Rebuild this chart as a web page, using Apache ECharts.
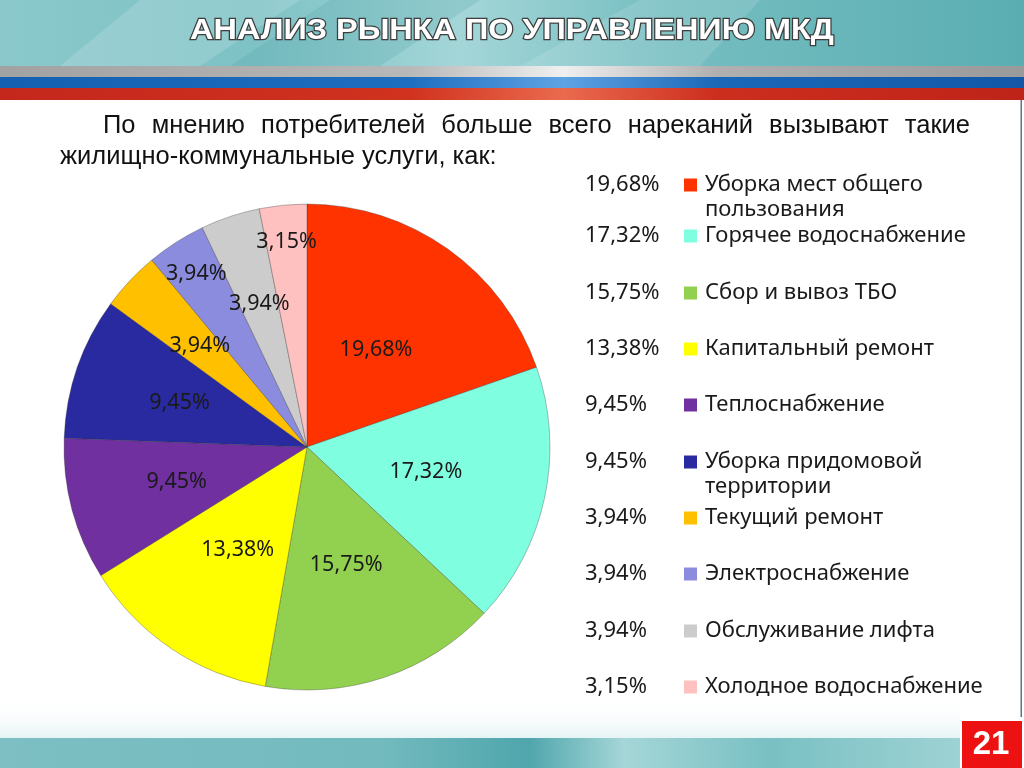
<!DOCTYPE html>
<html>
<head>
<meta charset="utf-8">
<script src="https://cdn.jsdelivr.net/npm/echarts@6/dist/echarts.min.js"></script>
<style>
html,body{margin:0;padding:0;background:#fff;}
#c{width:1024px;height:768px;}
</style>
</head>
<body>
<div id="c"></div>
<script>
// ---- data ----
const titleText = 'АНАЛИЗ РЫНКА ПО УПРАВЛЕНИЮ МКД';
const introLine1 = 'По мнению потребителей больше всего нареканий вызывают такие';
const introLine2 = 'жилищно-коммунальные услуги, как:';
const pageNumber = '21';
const categories = [
  'Уборка мест общего пользования',
  'Горячее водоснабжение',
  'Сбор и вывоз ТБО',
  'Капитальный ремонт',
  'Теплоснабжение',
  'Уборка придомовой территории',
  'Текущий ремонт',
  'Электроснабжение',
  'Обслуживание лифта',
  'Холодное водоснабжение'
];
const values = [19.68, 17.32, 15.75, 13.38, 9.45, 9.45, 3.94, 3.94, 3.94, 3.15];
const legendLines = [
  ['Уборка мест общего', 'пользования'],
  ['Горячее водоснабжение'],
  ['Сбор и вывоз ТБО'],
  ['Капитальный ремонт'],
  ['Теплоснабжение'],
  ['Уборка придомовой', 'территории'],
  ['Текущий ремонт'],
  ['Электроснабжение'],
  ['Обслуживание лифта'],
  ['Холодное водоснабжение']
];

// ---- styles / layout ----
const colors = ['#FF3300','#80FFE0','#92D050','#FFFF00','#7030A0','#2A2AA0','#FFC000','#8C8CDE','#CCCCCC','#FFC0C0'];
const legendCenters = [185, 236, 293, 349, 405, 462, 518, 574, 631, 687];
const labelRadius = [0.49, 0.5, 0.51, 0.51, 0.555, 0.555, 0.605, 0.845, 0.62, 0.85];
const PIE_CX = 307, PIE_CY = 447, PIE_R = 243;
const FONT = 'Noto Sans';
const INTRO_FONT = '25.5px "Liberation Sans", Arial';
const fmt = v => v.toFixed(2).replace('.', ',') + '%';

const chart = echarts.init(document.getElementById('c'), null, {renderer: 'canvas'});

const graphics = [];
// header banner
graphics.push({type:'rect', shape:{x:0,y:0,width:1024,height:66}, z:-10,
  style:{fill:new echarts.graphic.LinearGradient(0,0,1,0,[
    {offset:0,color:'#8AC8CB'},{offset:0.25,color:'#7EC2C5'},{offset:0.45,color:'#A4D6D8'},
    {offset:0.65,color:'#76BEC1'},{offset:1,color:'#5AAEB2'}])}});
graphics.push({type:'polygon', z:-9, shape:{points:[[60,66],[140,0],[300,0],[200,66]]},
  style:{fill:'rgba(255,255,255,0.15)'}});
graphics.push({type:'polygon', z:-9, shape:{points:[[230,66],[330,0],[480,0],[380,66]]},
  style:{fill:'rgba(60,150,155,0.18)'}});
graphics.push({type:'polygon', z:-9, shape:{points:[[520,66],[640,0],[760,0],[700,66]]},
  style:{fill:'rgba(255,255,255,0.12)'}});
// stripes
graphics.push({type:'rect', shape:{x:0,y:66,width:1024,height:11}, z:-10,
  style:{fill:new echarts.graphic.LinearGradient(0,0,1,0,[
    {offset:0,color:'#A2A2A2'},{offset:0.4,color:'#B8B8B8'},{offset:0.55,color:'#EFEFEF'},
    {offset:0.7,color:'#B0B0B0'},{offset:1,color:'#9A9A9A'}])}});
graphics.push({type:'rect', shape:{x:0,y:77,width:1024,height:11}, z:-10,
  style:{fill:new echarts.graphic.LinearGradient(0,0,1,0,[
    {offset:0,color:'#1560B0'},{offset:0.4,color:'#1E6EC0'},{offset:0.55,color:'#5FA3E3'},
    {offset:0.7,color:'#1B68B8'},{offset:1,color:'#1358A8'}])}});
graphics.push({type:'rect', shape:{x:0,y:88,width:1024,height:12}, z:-10,
  style:{fill:new echarts.graphic.LinearGradient(0,0,1,0,[
    {offset:0,color:'#C4281C'},{offset:0.4,color:'#D0321F'},{offset:0.55,color:'#EA6A4E'},
    {offset:0.7,color:'#CC2E1E'},{offset:1,color:'#BE2418'}])}});
// title
graphics.push({type:'text', x:512, y:31, z:5, scaleX:1.08, style:{text:titleText, fill:'#FFFFFF',
  font:'bold 30px "Liberation Sans", Arial', align:'center', verticalAlign:'middle',
  stroke:'#3E3E3E', lineWidth:2.4}});
// right thin line
graphics.push({type:'rect', shape:{x:1020.5,y:100,width:1.5,height:617}, z:-5, style:{fill:'#5A7090'}});

// intro text: first line justified between 103 and 970
(function () {
  const ctx = document.createElement('canvas').getContext('2d');
  ctx.font = INTRO_FONT;
  const words = introLine1.split(' ');
  const widths = words.map(w => ctx.measureText(w).width);
  const total = widths.reduce((a, b) => a + b, 0);
  const left = 103, right = 970;
  const gap = (right - left - total) / (words.length - 1);
  let x = left;
  words.forEach((w, i) => {
    graphics.push({type:'text', x:x, y:126, style:{text:w, fill:'#111', font:INTRO_FONT, verticalAlign:'middle'}});
    x += widths[i] + gap;
  });
})();
graphics.push({type:'text', x:60, y:157, style:{text:introLine2, fill:'#111',
  font:INTRO_FONT, verticalAlign:'middle'}});
// footer
graphics.push({type:'rect', shape:{x:0,y:700,width:960,height:40}, z:-10,
  style:{fill:new echarts.graphic.LinearGradient(0,0,0,1,[
    {offset:0,color:'rgba(255,255,255,0)'},{offset:1,color:'rgba(200,230,232,0.5)'}])}});
graphics.push({type:'rect', shape:{x:0,y:738,width:960,height:30}, z:-10,
  style:{fill:new echarts.graphic.LinearGradient(0,0,1,0,[
    {offset:0,color:'#7DBFC3'},{offset:0.4,color:'#72BABE'},{offset:0.55,color:'#4FA6AC'},
    {offset:0.65,color:'#A5D6D8'},{offset:0.8,color:'#79C0C3'},{offset:1,color:'#9ED2D4'}])}});
graphics.push({type:'rect', shape:{x:962,y:721,width:60,height:47}, z:5, style:{fill:'#EE1111'}});
graphics.push({type:'text', x:991, y:745, z:6, style:{text:pageNumber, fill:'#FFFFFF',
  font:'bold 33px "Liberation Sans", Arial', align:'center', verticalAlign:'middle'}});
// legend percentages and second lines
values.forEach((v, i) => {
  graphics.push({type:'text', x:585, y:legendCenters[i], style:{text:fmt(v), fill:'#1a1a1a',
    font:'22px "' + FONT + '"', verticalAlign:'middle'}});
  if (legendLines[i].length > 1) {
    graphics.push({type:'text', x:705, y:legendCenters[i] + 25, style:{text:legendLines[i][1], fill:'#1a1a1a',
      font:'22px "' + FONT + '"', verticalAlign:'middle'}});
  }
});

const legends = categories.map((name, i) => ({
  data:[name], left:684, top:legendCenters[i] - 13, orient:'vertical',
  itemWidth:13, itemHeight:13, itemGap:0, icon:'rect', selectedMode:false,
  padding:0,
  itemStyle:{borderWidth:0},
  formatter: () => legendLines[i][0],
  textStyle:{fontFamily:FONT, fontSize:22, color:'#1a1a1a', lineHeight:26, padding:[0,0,0,3]}
}));

chart.setOption({
  animation:false,
  color:colors,
  graphic:graphics,
  legend:legends,
  series:[{
    type:'pie',
    center:[PIE_CX, PIE_CY],
    radius:[0, PIE_R],
    startAngle:90,
    clockwise:true,
    avoidLabelOverlap:false,
    itemStyle:{borderColor:'rgba(50,50,50,0.55)', borderWidth:0.6},
    label:{show:true, position:'inside', formatter:p => fmt(p.value),
      fontFamily:FONT, fontSize:21.5, color:'#1a1a1a'},
    labelLine:{show:false},
    labelLayout: function (p) {
      const r = p.labelRect;
      const cx = r.x + r.width / 2, cy = r.y + r.height / 2;
      const dx0 = cx - PIE_CX, dy0 = cy - PIE_CY;
      const len = Math.sqrt(dx0 * dx0 + dy0 * dy0) || 1;
      const s = labelRadius[p.dataIndex] * PIE_R / len - 1;
      return {dx: dx0 * s, dy: dy0 * s};
    },
    emphasis:{disabled:true},
    data: categories.map((c, i) => ({name:c, value:values[i]}))
  }]
});
</script>
</body>
</html>
